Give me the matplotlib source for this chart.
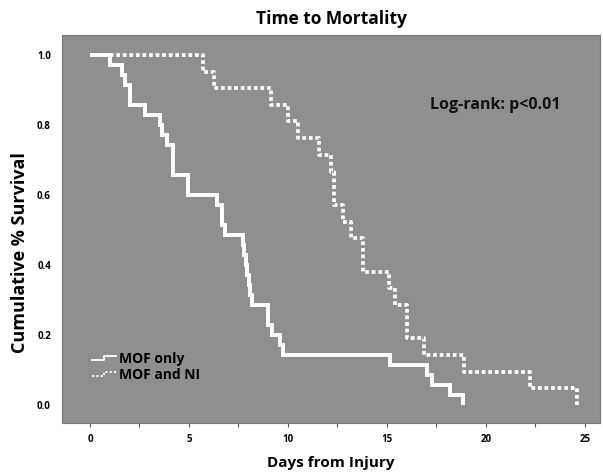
import matplotlib
matplotlib.use("Agg")
import matplotlib.pyplot as plt
from matplotlib.lines import Line2D
from matplotlib.legend_handler import HandlerBase

plt.rcParams['font.family'] = ['Open Sans', 'DejaVu Sans']
plt.rcParams['font.weight'] = 'bold'

# Kaplan-Meier steps (day, survival after the event)
mof_days = [0, 1.01, 1.6, 1.77, 2.02, 2.78, 3.54, 3.62, 3.87, 4.2, 4.96, 6.4, 6.65, 6.82,
            7.74, 7.8, 7.88, 7.95, 8.02, 8.1, 8.17, 9.0, 9.17, 9.6, 9.73,
            15.15, 17.0, 17.25, 18.18, 18.82]
mof_surv = [1.0, 0.971, 0.943, 0.914, 0.857, 0.829, 0.8, 0.771, 0.743, 0.657, 0.6, 0.571, 0.514, 0.486,
            0.457, 0.429, 0.4, 0.371, 0.343, 0.314, 0.286, 0.229, 0.2, 0.171, 0.143,
            0.114, 0.086, 0.057, 0.029, 0.0]

ni_days = [0, 5.72, 6.28, 9.12, 9.98, 10.52, 11.55, 12.15, 12.3, 12.8, 13.2, 13.8,
           15.12, 15.4, 16.03, 16.87, 18.89, 22.22, 24.61]
ni_surv = [1.0, 0.952, 0.905, 0.857, 0.81, 0.762, 0.714, 0.667, 0.571, 0.524, 0.476, 0.381,
           0.333, 0.286, 0.19, 0.143, 0.095, 0.048, 0.0]

x_ticks = [0, 5, 10, 15, 20, 25]
y_ticks = [0.0, 0.2, 0.4, 0.6, 0.8, 1.0]


class StepHandler(HandlerBase):
    # little step-shaped legend keys like SPSS draws
    def create_artists(self, legend, orig_handle, xdescent, ydescent,
                       width, height, fontsize, trans):
        x0 = -xdescent
        y0 = -ydescent + height * 0.3
        y1 = -ydescent + height * 0.75
        xs = [x0, x0 + width * 0.5, x0 + width * 0.5, x0 + width]
        ys = [y0, y0, y1, y1]
        ln = Line2D(xs, ys, color='white', lw=1.3,
                    linestyle=orig_handle.get_linestyle(), transform=trans)
        if orig_handle.get_linestyle() != '-':
            ln.set_dashes((1.2, 1.2))
        return [ln]


fig = plt.figure(figsize=(6.03, 4.72), dpi=100)
ax = fig.add_axes([62 / 603, 1 - 423 / 472, 538 / 603, 388 / 472])
ax.set_facecolor('#8f8f8f')

ni_line, = ax.step(ni_days, ni_surv, where='post', color='white', lw=2.7,
                   linestyle=(0, (1.0, 0.75)), dash_capstyle='butt', zorder=2,
                   label='MOF and NI')
mof_line, = ax.step(mof_days, mof_surv, where='post', color='white', lw=2.8,
                    solid_joinstyle='miter', solid_capstyle='butt', zorder=3,
                    label='MOF only')

ax.set_xlim(-1.414, 25.76)
ax.set_ylim(-0.0514, 1.057)
ax.set_xticks(x_ticks)
ax.set_xticks([2.5, 7.5, 12.5, 17.5, 22.5], minor=True)
ax.set_yticks(y_ticks)
ax.set_yticklabels(['%.1f' % v for v in y_ticks])
ax.tick_params(axis='x', which='both', length=3, width=0.8, color='#555555',
               direction='out', pad=5, labelsize=7)
ax.tick_params(axis='y', length=0, pad=8, labelsize=7)

for s in ax.spines.values():
    s.set_color('#777777')
    s.set_linewidth(0.8)

ax.set_title('Time to Mortality', fontsize=12.5, fontweight='bold', pad=8)
ax.set_xlabel('Days from Injury', fontsize=11, fontweight='bold', labelpad=8)
ax.set_ylabel('Cumulative % Survival', fontsize=13, fontweight='bold')
ax.yaxis.set_label_coords(-0.062, 0.44)

ax.text(17.17, 0.846, 'Log-rank: p<0.01', fontsize=11.5, fontweight='bold',
        color='#111111', ha='left', va='baseline')

leg = ax.legend([mof_line, ni_line], ['MOF only', 'MOF and NI'],
                handler_map={mof_line: StepHandler(), ni_line: StepHandler()},
                loc='lower left', bbox_to_anchor=(0.056, 0.105), frameon=False,
                borderpad=0, borderaxespad=0, handlelength=1.7, handletextpad=0.25,
                labelspacing=0.15, prop={'size': 10, 'weight': 'bold'})

fig.savefig('out.png', dpi=100, facecolor='white')
